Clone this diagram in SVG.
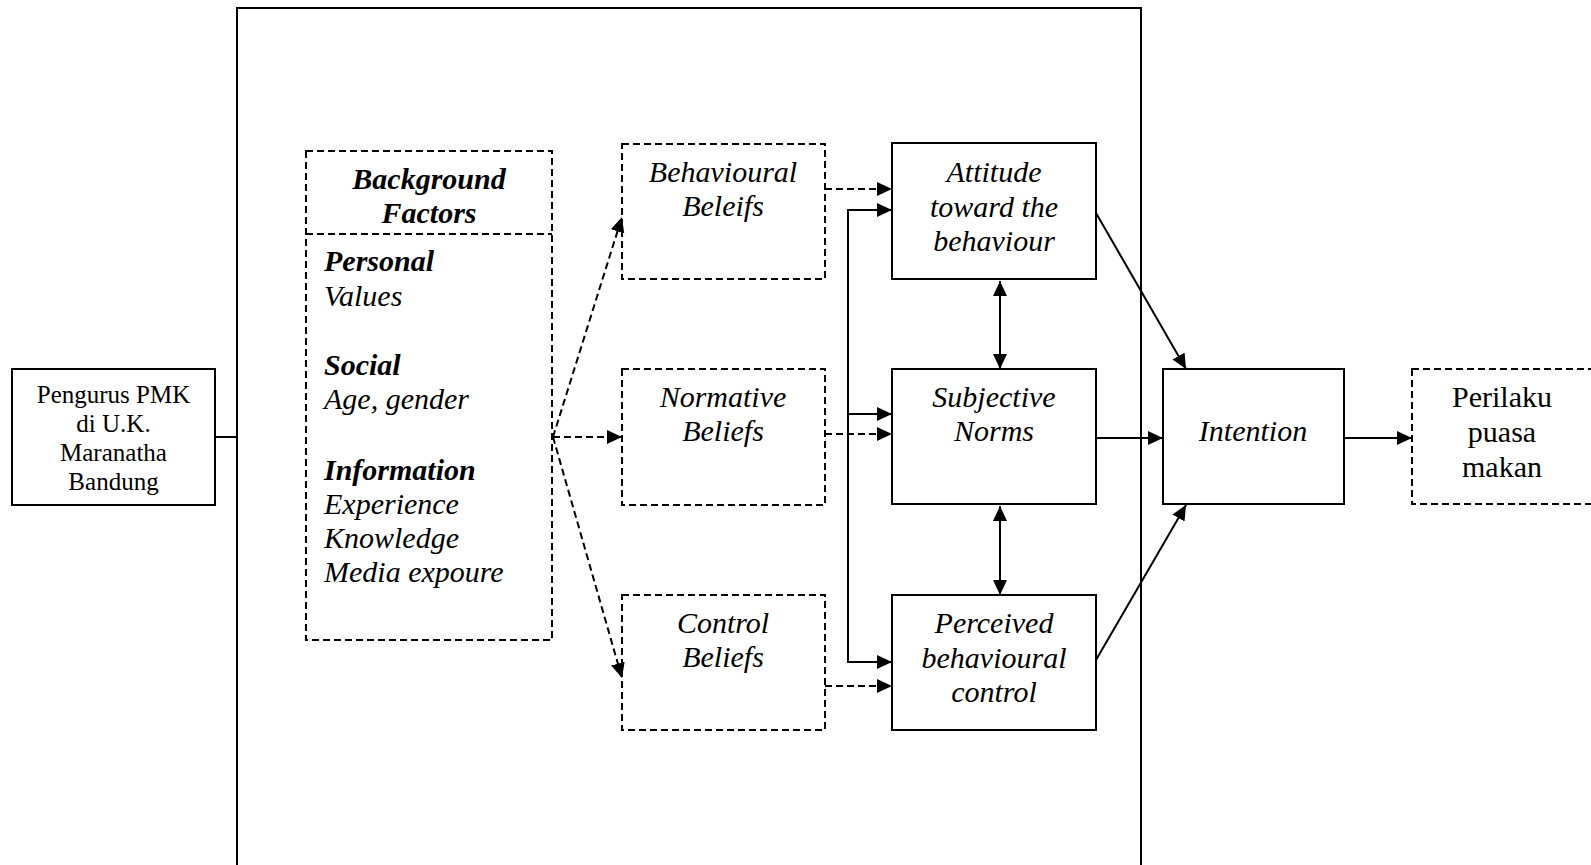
<svg xmlns="http://www.w3.org/2000/svg" width="1591" height="865" viewBox="0 0 1591 865">
<style>
.box{fill:#fff;stroke:#000;stroke-width:2}
.dbox{fill:#fff;stroke:#000;stroke-width:2;stroke-dasharray:7 4}
.t{font-family:"Liberation Serif","Times New Roman",serif;font-size:30px;fill:#000}
.i{font-style:italic}
.b{font-weight:bold}
.c{text-anchor:middle}
.s{font-size:25px}
.ln{fill:none;stroke:#000;stroke-width:2}
.dl{fill:none;stroke:#000;stroke-width:2;stroke-dasharray:7 4}
</style>
<defs>
<marker id="ah" markerUnits="userSpaceOnUse" markerWidth="16" markerHeight="16" refX="15" refY="8" orient="auto-start-reverse" viewBox="0 0 16 16">
<path d="M0,1 L15,8 L0,15 z" fill="#000"/>
</marker>
</defs>
<rect width="1591" height="865" fill="#fff"/>
<g id="frame"><path class="ln" d="M237,870 V8 H1141 V870"/></g>
<g id="pmk"><rect class="box" x="12" y="369" width="203" height="136"/>
<text class="t s c" x="113.5" y="403">Pengurus PMK</text>
<text class="t s c" x="113.5" y="432">di U.K.</text>
<text class="t s c" x="113.5" y="461">Maranatha</text>
<text class="t s c" x="113.5" y="490">Bandung</text></g>
<g id="background"><rect class="dbox" x="306" y="151" width="246" height="489"/>
<line class="dl" x1="306" y1="234" x2="552" y2="234"/>
<text class="t i b c" x="429" y="189">Background</text>
<text class="t i b c" x="429" y="223">Factors</text>
<text class="t i b" x="324" y="271">Personal</text>
<text class="t i" x="324" y="306">Values</text>
<text class="t i b" x="324" y="375">Social</text>
<text class="t i" x="324" y="409">Age, gender</text>
<text class="t i b" x="324" y="480">Information</text>
<text class="t i" x="324" y="514">Experience</text>
<text class="t i" x="324" y="548">Knowledge</text>
<text class="t i" x="324" y="582">Media expoure</text></g>
<g id="behavioural"><rect class="dbox" x="622" y="144" width="203" height="135"/>
<text class="t i c" x="723" y="182">Behavioural</text>
<text class="t i c" x="723" y="216">Beleifs</text></g>
<g id="normative"><rect class="dbox" x="622" y="369" width="203" height="136"/>
<text class="t i c" x="723" y="407">Normative</text>
<text class="t i c" x="723" y="441">Beliefs</text></g>
<g id="control"><rect class="dbox" x="622" y="595" width="203" height="135"/>
<text class="t i c" x="723" y="633">Control</text>
<text class="t i c" x="723" y="667">Beliefs</text></g>
<g id="attitude"><rect class="box" x="892" y="143" width="204" height="136"/>
<text class="t i c" x="994" y="182">Attitude</text>
<text class="t i c" x="994" y="217">toward the</text>
<text class="t i c" x="994" y="251">behaviour</text></g>
<g id="subjective"><rect class="box" x="892" y="369" width="204" height="135"/>
<text class="t i c" x="994" y="407">Subjective</text>
<text class="t i c" x="994" y="441">Norms</text></g>
<g id="perceived"><rect class="box" x="892" y="595" width="204" height="135"/>
<text class="t i c" x="994" y="633">Perceived</text>
<text class="t i c" x="994" y="668">behavioural</text>
<text class="t i c" x="994" y="702">control</text></g>
<g id="intention"><rect class="box" x="1163" y="369" width="181" height="135"/>
<text class="t i c" x="1253" y="441">Intention</text></g>
<g id="perilaku"><rect class="dbox" x="1412" y="369" width="182" height="135"/>
<text class="t c" x="1502" y="407">Perilaku</text>
<text class="t c" x="1502" y="442">puasa</text>
<text class="t c" x="1502" y="477">makan</text></g>
<g id="connectors">
<line class="ln" x1="215" y1="437" x2="237" y2="437"/>
<line class="dl" x1="553" y1="437" x2="622" y2="217" marker-end="url(#ah)"/>
<line class="dl" x1="553" y1="437" x2="622" y2="437" marker-end="url(#ah)"/>
<line class="dl" x1="553" y1="437" x2="622" y2="678" marker-end="url(#ah)"/>
<line class="dl" x1="825" y1="189" x2="892" y2="189" marker-end="url(#ah)"/>
<line class="dl" x1="825" y1="434" x2="892" y2="434" marker-end="url(#ah)"/>
<line class="dl" x1="825" y1="686" x2="892" y2="686" marker-end="url(#ah)"/>
<line class="ln" x1="848" y1="209" x2="848" y2="663"/>
<line class="ln" x1="847" y1="210" x2="892" y2="210" marker-end="url(#ah)"/>
<line class="ln" x1="848" y1="414" x2="892" y2="414" marker-end="url(#ah)"/>
<line class="ln" x1="847" y1="662" x2="892" y2="662" marker-end="url(#ah)"/>
<line class="ln" x1="1000" y1="281" x2="1000" y2="369" marker-start="url(#ah)" marker-end="url(#ah)"/>
<line class="ln" x1="1000" y1="506" x2="1000" y2="595" marker-start="url(#ah)" marker-end="url(#ah)"/>
<line class="ln" x1="1096" y1="213" x2="1186" y2="369" marker-end="url(#ah)"/>
<line class="ln" x1="1096" y1="438" x2="1163" y2="438" marker-end="url(#ah)"/>
<line class="ln" x1="1096" y1="660" x2="1186" y2="505" marker-end="url(#ah)"/>
<line class="ln" x1="1344" y1="438" x2="1412" y2="438" marker-end="url(#ah)"/>
</g>
</svg>
